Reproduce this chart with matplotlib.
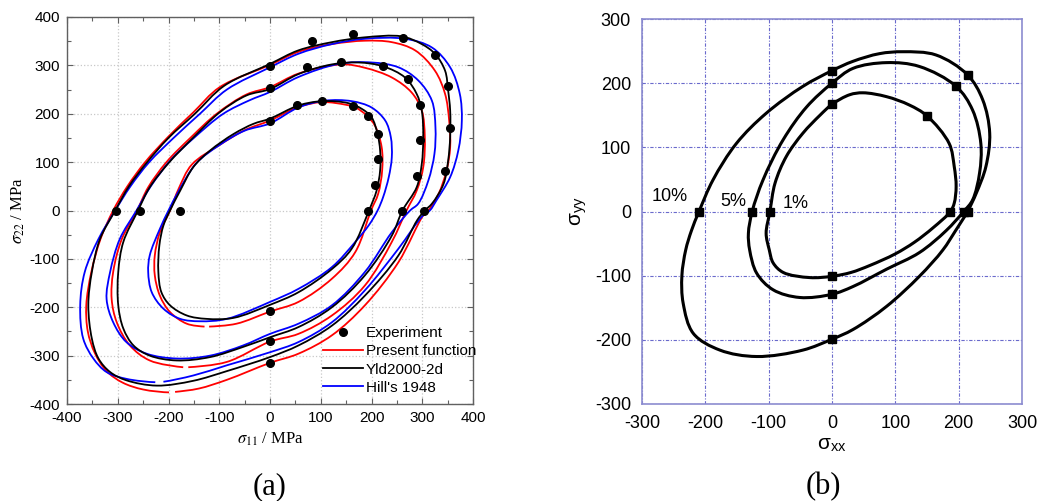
import numpy as np
import matplotlib
matplotlib.use("Agg")
import matplotlib.pyplot as plt
from matplotlib.path import Path
from matplotlib.patches import PathPatch
from matplotlib.lines import Line2D
from matplotlib.ticker import MultipleLocator

plt.rcParams["mathtext.fontset"] = "stix"
plt.rcParams["axes.unicode_minus"] = False

# ---------------- (a) yield loci: experiment and three models ----------------
# None inside a curve list marks a short break in the drawn line.
exp_x = [-303, -256, -178, 0, 0, 0, 54, 102, 72, 83, 139, 164, 163, 193, 212, 213, 207,
         193, 222, 272, 296, 296, 289, 260, 262, 325, 351, 354, 344, 304, 0, 0, 0]
exp_y = [0, 0, 0, 299, 254, 185, 219, 227, 297, 350, 307, 364, 216, 195, 159, 106, 52,
         0, 299, 271, 219, 145, 72, 0, 357, 322, 257, 171, 82, 0, -208, -270, -315]

# Yld2000-2d
yld_in_x = [195, 210, 217, 217, 212, 200, 181, 154, 102, 56, 0, -33, -72, -118, -151, -177,
            -197, -210, -218, -220, -214, -197, -164, -125, -72, 0, 56, 122, 161]
yld_in_y = [0, 41, 83, 124, 158, 193, 210, 222, 226, 217, 190, 179, 158, 124, 90, 41,
            0, -31, -72, -127, -169, -196, -217, -224, -222, -195, -169, -121, -79]
yld_mid_x = [261, 289, 299, 302, 299, 289, 266, 223, 174, 122, 56, 0, -46, -99, -151, -200,
             -237, -260, -289, -299, -299, -289, -269, -237, -184, -118, -53, 0, 56, 122, 187, 240]
yld_mid_y = [0, 48, 96, 152, 207, 241, 275, 298, 306, 302, 282, 251, 238, 203, 151, 98,
             48, 0, -65, -127, -196, -244, -279, -300, -310, -303, -282, -262, -241, -200, -134, -52]
yld_out_x = [305, 319, 342, 351, 355, 355, 351, 345, 325, 299, 259, 187, 122, 56, 0, -90, -148,
             -200, -242, -278, -305, -335, -351, -358, -351, -338, -315, -283, -223, -151, -85,
             0, 56, 122, 187, 253, 290]
yld_out_y = [0, 14, 55, 103, 152, 207, 248, 289, 324, 344, 360, 358, 348, 331, 303, 258, 200,
             150, 100, 50, 0, -59, -127, -196, -265, -306, -334, -351, -362, -352, -332,
             -303, -279, -238, -176, -93, -20]

# Present function
pre_in_x = [199, 213, 221, 220, 207, 190, 168, 130, 100, 56, 0, -50, -100, -154, -180, -197,
            -217, -227, -227, -217, -197, -164, -129, None, -120, -66, 0, 56, 122, 168]
pre_in_y = [0, 34, 83, 131, 175, 197, 213, 222, 224, 214, 186, 166, 135, 95, 45, 0,
            -45, -93, -134, -176, -210, -234, -240, None, -240, -234, -209, -189, -141, -86]
pre_mid_x = [269, 289, 302, 305, 299, 279, 240, 187, 141, 56, 0, -46, -105, -155, -204, -240,
             -262, -292, -309, -312, -302, -276, -237, -171, None, -161, -85, 0, 56, 122, 187, 240]
pre_mid_y = [0, 41, 90, 152, 207, 244, 275, 295, 302, 283, 255, 240, 200, 152, 100, 48,
             0, -59, -127, -183, -231, -279, -310, -324, None, -324, -313, -271, -255, -217, -155, -65]
pre_out_x = [312, 332, 348, 355, 353, 345, 325, 286, 240, 187, 122, 56, 0, -99, -151, -200,
             -246, -281, -309, -334, -352, -362, -359, -345, -322, -290, -250, -199, None, -187,
             -140, -85, 0, 56, 122, 187, 253, 302]
pre_out_y = [0, 34, 83, 131, 186, 241, 289, 331, 348, 351, 344, 328, 301, 255, 203, 153,
             100, 50, 0, -59, -127, -196, -250, -295, -332, -356, -370, -376, None, -375,
             -368, -350, -315, -296, -258, -196, -107, -10]

# Hill's 1948
hill_in_x = [212, 223, 234, 240, 238, 227, 200, 161, 108, 56, 0, -50, -100, -145, -180, -200,
             -217, -237, -240, -233, -210, -177, -138, -85, 0, 56, 122, 168, 195]
hill_in_y = [0, 28, 69, 110, 152, 186, 213, 226, 227, 213, 180, 165, 135, 98, 40, 0,
             -38, -93, -127, -169, -203, -224, -229, -224, -189, -162, -117, -65, -30]
hill_mid_x = [276, 292, 312, 324, 326, 319, 292, 253, 200, 135, 56, 0, -40, -92, -150, -195,
              -235, -263, -296, -315, -322, -309, -283, -243, -184, -118, -53, 0, 56, 122, 187, 240]
hill_mid_y = [0, 14, 62, 117, 172, 227, 269, 296, 306, 303, 276, 245, 228, 200, 150, 105,
              50, 0, -59, -127, -183, -231, -272, -296, -306, -300, -279, -255, -234, -196, -127, -45]
hill_out_x = [315, 328, 355, 371, 378, 374, 355, 319, 266, 187, 122, 56, 0, -85, -138, -190,
              -238, -275, -305, -338, -365, -374, -368, -348, -322, -283, -226, None, -210, -151,
              -85, 0, 56, 122, 187, 253, 300]
hill_out_y = [0, 21, 69, 124, 186, 241, 296, 337, 355, 355, 344, 324, 296, 250, 200, 150,
              100, 50, 0, -59, -127, -196, -265, -306, -334, -348, -355, None, -354, -341,
              -320, -293, -272, -231, -165, -79, -12]

# ---------------- (b) yield loci at 1 %, 5 %, 10 % ----------------
p1_x = [187, 193, 196, 193, 185, 150, 122, 86, 49, 28, 0, -19, -46, -72, -90, -98, -104, -99,
        -93, -77, -35, 0, 30, 60, 100, 130, 160]
p1_y = [0, 13, 39, 70, 106, 149, 166, 179, 185, 182, 167, 150, 122, 86, 44, 0, -34, -60,
        -80, -95, -103, -101, -95, -84, -66, -48, -25]
p5_x = [208, 222, 233, 235, 222, 196, 138, 86, 33, 0, -40, -77, -109, -126, -132, -130, -119,
        -93, -51, 0, 33, 86, 138, 180]
p5_y = [0, 18, 60, 106, 158, 195, 226, 232, 223, 200, 163, 112, 49, 0, -34, -60, -96,
        -122, -134, -129, -117, -90, -64, -30]
p10_x = [214, 228, 243, 249, 238, 214, 164, 112, 75, 33, 0, -46, -104, -151, -188, -210, -222,
         -231, -237, -235, -219, -177, -119, -46, 0, 33, 86, 138, 175, 195]
p10_y = [0, 29, 70, 122, 174, 213, 244, 249, 246, 234, 219.5, 195, 153, 106, 49, 0, -30,
         -60, -100, -143, -190, -216, -226, -216, -199, -184, -148, -101, -60, -30]
sq_x = [0, 0, 0, 150, 196, 214, 187, 208, 214, -210, -126, -98, 0, 0, 0]
sq_y = [219.5, 200, 167, 149, 195, 213, 0, 0, 0, 0, 0, 0, -101, -129, -199]
level_labels = ["10%", "5%", "1%"]
level_lx = [-257, -156, -57]
level_ly = [24, 16, 13]


def closed_curve(ax, xs, ys, **kw):
    """Smooth closed loop through the points (centripetal Catmull-Rom as cubic Beziers).
    A None entry leaves the segment between its neighbours undrawn."""
    pts, breaks = [], set()
    for x, y in zip(xs, ys):
        if x is None:
            breaks.add(len(pts) - 1)
            continue
        pts.append((x, y))
    p = np.array(pts, dtype=float)
    n = len(p)
    verts, codes = [], []
    pen = False
    for i in range(n):
        if i in breaks:
            pen = False
            continue
        p0, p1, p2, p3 = p[(i - 1) % n], p[i], p[(i + 1) % n], p[(i + 2) % n]
        a1 = np.hypot(*(p1 - p0)) ** 0.5
        a2 = np.hypot(*(p2 - p1)) ** 0.5
        a3 = np.hypot(*(p3 - p2)) ** 0.5
        b1 = (a1 ** 2 * p2 - a2 ** 2 * p0 + (2 * a1 ** 2 + 3 * a1 * a2 + a2 ** 2) * p1) / (3 * a1 * (a1 + a2))
        b2 = (a3 ** 2 * p1 - a2 ** 2 * p3 + (2 * a3 ** 2 + 3 * a3 * a2 + a2 ** 2) * p2) / (3 * a3 * (a3 + a2))
        if not pen:
            verts.append(p1)
            codes.append(Path.MOVETO)
            pen = True
        verts += [b1, b2, p2]
        codes += [Path.CURVE4] * 3
    ax.add_patch(PathPatch(Path(verts, codes), fill=False, joinstyle="round",
                           capstyle="butt", **kw))


fig = plt.figure(figsize=(10.52, 5.01), dpi=100)

# ---------- panel (a) ----------
axa = fig.add_axes([67 / 1052, 97 / 501, 406 / 1052, 387 / 501])
axa.set_xlim(-400, 400)
axa.set_ylim(-400, 400)
axa.xaxis.set_major_locator(MultipleLocator(100))
axa.yaxis.set_major_locator(MultipleLocator(100))
axa.xaxis.set_minor_locator(MultipleLocator(50))
axa.yaxis.set_minor_locator(MultipleLocator(50))
axa.tick_params(which="both", direction="in", top=True, right=True, color="#606060")
axa.tick_params(which="major", length=4, width=0.8, pad=5, labelsize=11)
axa.tick_params(which="minor", length=3, width=0.8)
for lbl in axa.get_xticklabels() + axa.get_yticklabels():
    lbl.set_family("Liberation Sans")
for s in axa.spines.values():
    s.set_color("#606060")
    s.set_linewidth(1.0)
axa.grid(True, which="major", color="#c8c8c8", linestyle=":", linewidth=0.9)
axa.set_axisbelow(True)

lw_a = 1.3
for xs, ys in [(pre_in_x, pre_in_y), (pre_mid_x, pre_mid_y), (pre_out_x, pre_out_y)]:
    closed_curve(axa, xs, ys, edgecolor="#ff0000", linewidth=lw_a, zorder=3)
for xs, ys in [(hill_in_x, hill_in_y), (hill_mid_x, hill_mid_y), (hill_out_x, hill_out_y)]:
    closed_curve(axa, xs, ys, edgecolor="#0000ff", linewidth=lw_a, zorder=3)
for xs, ys in [(yld_in_x, yld_in_y), (yld_mid_x, yld_mid_y), (yld_out_x, yld_out_y)]:
    closed_curve(axa, xs, ys, edgecolor="black", linewidth=lw_a, zorder=4)
axa.plot(exp_x, exp_y, "o", color="black", markersize=5.5, zorder=5)

axa.set_xlabel(r"$\sigma_{11}$ / MPa", family="Liberation Serif", fontsize=12, labelpad=4)
axa.set_ylabel(r"$\sigma_{22}$ / MPa", family="Liberation Serif", fontsize=12, labelpad=2)

handles = [
    Line2D([], [], marker="o", color="black", linestyle="none", markersize=5.5),
    Line2D([], [], color="#ff0000", linewidth=lw_a),
    Line2D([], [], color="black", linewidth=lw_a),
    Line2D([], [], color="#0000ff", linewidth=lw_a),
]
labels = ["Experiment", "Present function", "Yld2000-2d", "Hill's 1948"]
axa.legend(handles, labels, loc="upper left", bbox_to_anchor=(323 / 1052, 1 - 326 / 501),
           bbox_transform=fig.transFigure, frameon=False,
           prop={"family": "Liberation Sans", "size": 11}, handlelength=2.6,
           handletextpad=0.2, labelspacing=0.28, borderpad=0, borderaxespad=0)

# ---------- panel (b) ----------
axb = fig.add_axes([642 / 1052, 97 / 501, 380 / 1052, 385 / 501])
axb.set_xlim(-300, 300)
axb.set_ylim(-300, 300)
axb.xaxis.set_major_locator(MultipleLocator(100))
axb.yaxis.set_major_locator(MultipleLocator(100))
axb.tick_params(which="both", length=0, pad=8, labelsize=13)
for lbl in axb.get_xticklabels() + axb.get_yticklabels():
    lbl.set_family("Liberation Sans")
for s in axb.spines.values():
    s.set_color("#8c8cd0")
    s.set_linewidth(1.2)
axb.grid(True, color="#6a6acc", linestyle=(0, (3, 1.5, 1, 1.5)), linewidth=0.8)
axb.set_axisbelow(True)

for xs, ys in [(p1_x, p1_y), (p5_x, p5_y), (p10_x, p10_y)]:
    closed_curve(axb, xs, ys, edgecolor="black", linewidth=2.2, zorder=3)
axb.plot(sq_x, sq_y, "s", color="black", markersize=5.5, zorder=4)
for t, lx, ly in zip(level_labels, level_lx, level_ly):
    axb.text(lx, ly, t, ha="center", va="center", fontsize=13, family="Liberation Sans")

axb.set_xlabel(r"σ$_\mathregular{xx}$", family="Liberation Sans", fontsize=15, labelpad=2)
axb.set_ylabel(r"σ$_\mathregular{yy}$", family="Liberation Sans", fontsize=15, labelpad=4)

# panel captions
fig.text(270 / 1052, 1 - 487 / 501, "(a)", ha="center", va="center",
         family="Liberation Serif", fontsize=22)
fig.text(823 / 1052, 1 - 487 / 501, "(b)", ha="center", va="center",
         family="Liberation Serif", fontsize=22)

fig.savefig("out.png", dpi=100)
